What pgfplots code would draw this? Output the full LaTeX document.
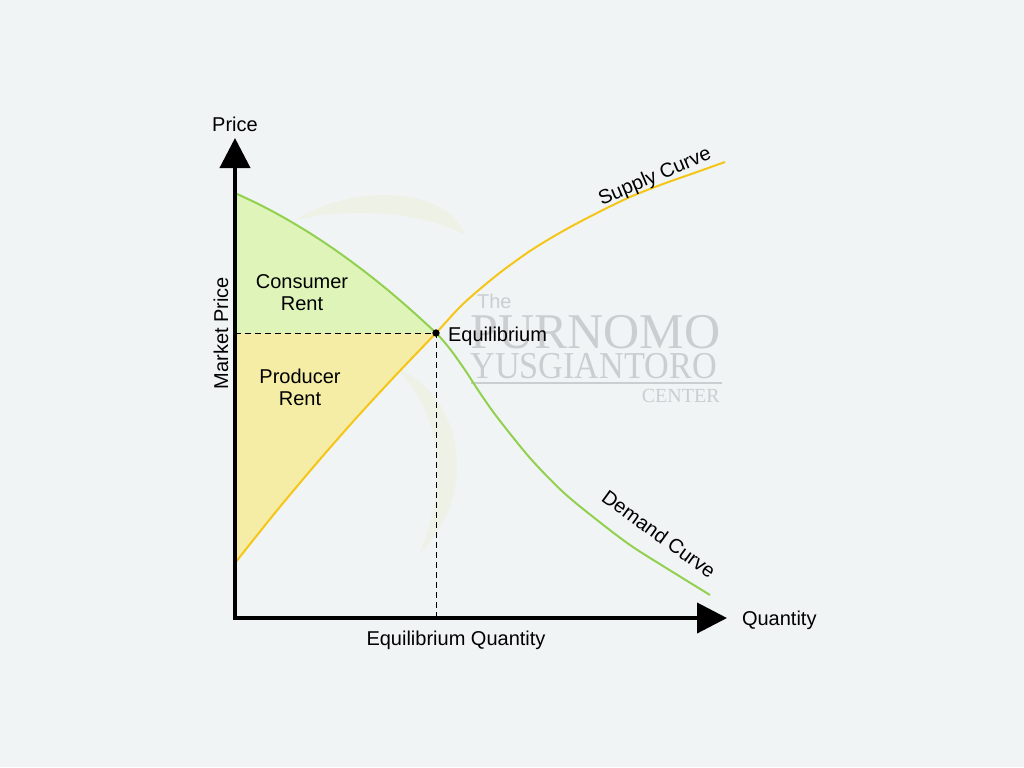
\documentclass[border=0pt]{standalone}
\usepackage{pgfplots}
\pgfplotsset{compat=1.18}
\usepackage{fontspec}
\setmainfont{Liberation Sans}
\newfontfamily\wmserif{Liberation Serif}
\usetikzlibrary{arrows.meta}
\definecolor{bg}{HTML}{F1F4F5}
\definecolor{demand}{HTML}{92D050}
\definecolor{supply}{HTML}{F5C518}
\definecolor{cfill}{HTML}{DEF4B9}
\definecolor{pfill}{HTML}{F5EDA6}
\definecolor{wm}{HTML}{CBCED0}
\definecolor{swirl}{HTML}{ECEFDC}
\begin{document}
\begin{tikzpicture}
\begin{axis}[
  width=512pt, height=383.5pt, scale only axis,
  xmin=0, xmax=1024, ymin=0, ymax=767, y dir=reverse,
  hide axis, clip=false,
  every node/.style={font=\fontsize{10pt}{12pt}\selectfont, text=black},
]
\fill[bg] (rel axis cs:0,0) rectangle (rel axis cs:1,1);
% faint logo swirl
\fill[swirl, opacity=0.6] (axis cs:295,220) .. controls (axis cs:360,180) and (axis cs:450,190) .. (axis cs:465,235)
  .. controls (axis cs:430,215) and (axis cs:360,205) .. (axis cs:295,220) -- cycle;
\fill[swirl, opacity=0.6] (axis cs:395,367) .. controls (axis cs:470,400) and (axis cs:475,500) .. (axis cs:420,553)
  .. controls (axis cs:450,480) and (axis cs:440,410) .. (axis cs:395,367) -- cycle;
% fills
\addplot[draw=none, fill=cfill] coordinates {
(235,333) (235,193) (260,204.8) (285,218.2) (310,233.2) (335,249.8) (360,268) (385,287.7) (410,309.1) (436,333)} -- cycle;
\addplot[draw=none, fill=pfill] coordinates {
(235,333) (436,333) (395,376) (355,419.4) (315,465.1) (275,512.9) (235,563)} -- cycle;
% watermark text
\node[text=wm, font=\fontsize{10pt}{12pt}\selectfont, anchor=west] at (axis cs:470,301) {The};
\node[text=wm, font=\wmserif\fontsize{25pt}{25pt}\selectfont, anchor=west, inner sep=0pt] at (axis cs:470,332) {PURNOMO};
\node[text=wm, font=\wmserif\fontsize{19pt}{19pt}\selectfont, anchor=west, inner sep=0pt, xscale=0.9] at (axis cs:470,366) {YUSGIANTORO};
\draw[wm, line width=1pt] (axis cs:471,383) -- (axis cs:722,383);
\node[text=wm, font=\wmserif\fontsize{10pt}{12pt}\selectfont, anchor=east, inner sep=0pt] at (axis cs:720,396) {CENTER};
% curves
\addplot[demand, line width=1pt, smooth] coordinates {
(235,193) (260,204.8) (285,218.2) (310,233.2) (335,249.8) (360,268) (385,287.7) (410,309.1) (436,333) (450,349) (465,370) (480,393) (497,417) (530,458) (563,492) (597,520) (630,545) (663,566) (710,595)};
\addplot[supply, line width=1pt, smooth] coordinates {
(235,563) (275,512.9) (315,465.1) (355,419.4) (395,376) (436,333) (463,304) (497,275) (530,251) (563,231) (597,213) (630,197) (663,184) (697,172) (725,162)};
% dashed lines
\addplot[black, line width=0.5pt, dash pattern=on 3pt off 2pt] coordinates {(235,333) (436,333) (436,618)};
% axes
\addplot[black, line width=2pt, line join=miter,
  {Triangle[length=15pt,width=15pt]}-{Triangle[length=15pt,width=15pt]}] coordinates {(235,138) (235,618) (727,618)};
% equilibrium point
\addplot[only marks, mark=*, mark size=1.6pt, black] coordinates {(436,333)};
% labels
\node at (axis cs:235,124) {Price};
\node[rotate=90] at (axis cs:221,333) {Market Price};
\node[anchor=west] at (axis cs:735,620) {Quantity};
\node at (axis cs:456,640) {Equilibrium Quantity};
\node[align=center, font=\fontsize{10pt}{11pt}\selectfont] at (axis cs:302,293) {Consumer\\Rent};
\node[align=center, font=\fontsize{10pt}{11pt}\selectfont] at (axis cs:300,387) {Producer\\Rent};
\node[anchor=west] at (axis cs:441,336) {Equilibrium};
\node[rotate=23] at (axis cs:655,177) {Supply Curve};
\node[rotate=-36] at (axis cs:659,534) {Demand Curve};
\end{axis}
\end{tikzpicture}
\end{document}
